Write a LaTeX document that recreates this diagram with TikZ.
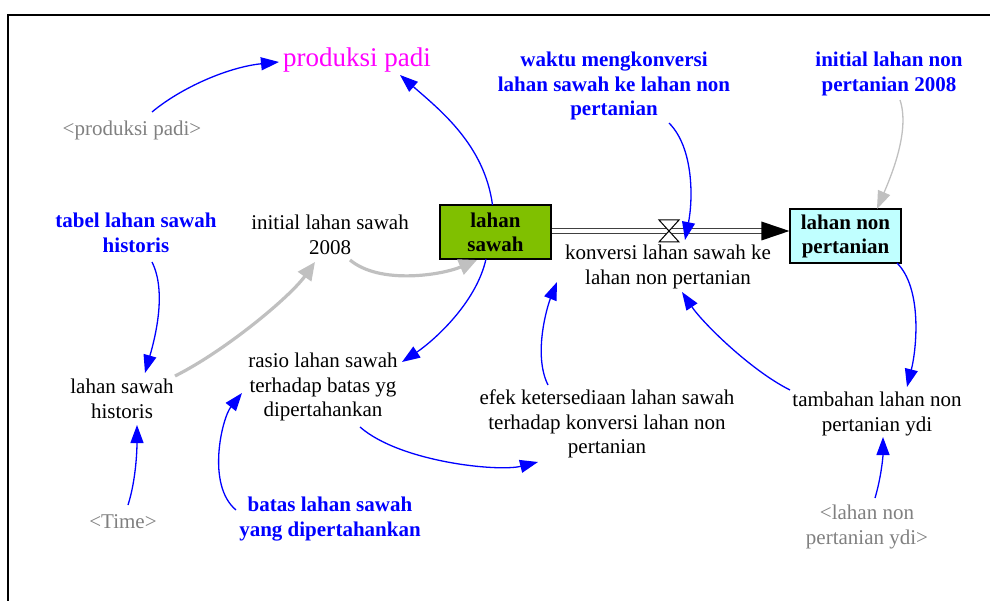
\documentclass[tikz,border=0pt]{standalone}
\usepackage{fontspec}
\setmainfont{Liberation Serif}
\usetikzlibrary{arrows.meta}
\definecolor{lsgreen}{HTML}{80C000}
\definecolor{lnpcyan}{HTML}{C0FFFF}
\definecolor{shadowgray}{HTML}{808080}
\definecolor{linkgray}{HTML}{C0C0C0}
\definecolor{pipegray}{HTML}{404040}
\definecolor{magentatext}{HTML}{FF00FF}
\begin{document}
\begin{tikzpicture}[x=1pt,y=-1pt,
  every node/.style={font=\fontsize{21}{24.5}\selectfont, align=center, inner sep=1pt},
  var/.style={text=black},
  auxin/.style={text=magentatext, font=\fontsize{27}{30}\selectfont},
  const/.style={text=blue, font=\fontsize{21}{24.5}\selectfont\bfseries},
  shadowvar/.style={text=shadowgray},
  stock/.style={draw=black, line width=1.2pt, minimum width=111pt, minimum height=54pt, inner sep=0pt,
    font=\fontsize{21}{24}\selectfont\bfseries},
  link/.style={blue, line width=1.3pt, -{Triangle[length=18pt,width=13pt]}},
  glink/.style={linkgray, line width=1.3pt, -{Triangle[length=18pt,width=13pt]}},
  tlink/.style={linkgray, line width=3.2pt, -{Triangle[length=18pt,width=16pt]}},
  pipe/.style={draw=pipegray, line width=1.3pt, double=white, double distance=3.2pt}
]
\useasboundingbox (0,0) rectangle (990,601);
\draw[line width=1.5pt] (8,601) -- (8,15) -- (990,15);

% nodes
\node[auxin] (pp) at (357,60) {produksi padi};
\node[shadowvar] (psg) at (132,130) {<produksi padi>};
\node[const] (wk) at (614,86) {waktu mengkonversi\\lahan sawah ke lahan non\\pertanian};
\node[const] (ilnp) at (889,74) {initial lahan non\\pertanian 2008};
\node[const] (tls) at (136,233) {tabel lahan sawah\\historis};
\node[var] (ils) at (330,235) {initial lahan sawah\\2008};
\node[stock, fill=lsgreen] (ls) at (495.5,232) {lahan\\sawah};
\node[stock, fill=lnpcyan] (lnp) at (845.5,236) {lahan non\\pertanian};
\node[var] (kv) at (668,267) {konversi lahan sawah ke\\lahan non pertanian};
\node[var] (rs) at (323,387) {rasio lahan sawah\\terhadap batas yg\\dipertahankan};
\node[var] (lsh) at (122,399) {lahan sawah\\historis};
\node[var] (ef) at (607,424) {efek ketersediaan lahan sawah\\terhadap konversi lahan non\\pertanian};
\node[var] (tb) at (877,414) {tambahan lahan non\\pertanian ydi};
\node[shadowvar] (time) at (123,522) {<Time>};
\node[const] (bt) at (330,519) {batas lahan sawah\\yang dipertahankan};
\node[shadowvar] (lnpg) at (867,527) {<lahan non\\pertanian ydi>};

% flow
\coordinate (valve) at (669,231);
\coordinate (pipeEnd) at (lnp.west |- valve);
\draw[pipe] (ls.east |- valve) -- ([xshift=-27pt]pipeEnd);
\fill[black] (pipeEnd) -- ++(-28,-9.5) -- ++(0,19) -- cycle;
\draw[fill=white, line width=1pt] ([shift={(-10,-11)}]valve) -- ([shift={(10,-11)}]valve)
  -- ([shift={(-10,11)}]valve) -- ([shift={(10,11)}]valve) -- cycle;

% links
\draw[link] ([shift={(20,-18)}]psg.center) .. controls +(30,-25) and +(-50,5) .. ([shift={(-78,2)}]pp.center);
\draw[link] ([shift={(-3,-27)}]ls.center) .. controls +(-8,-60) and +(40,35) .. ([shift={(43,15)}]pp.center);
\draw[link] ([shift={(55,37)}]wk.center) .. controls +(25,25) and +(8,-40) .. ([shift={(17,-27)}]kv.center);
\draw[glink] ([shift={(11,26)}]ilnp.center) .. controls +(10,30) and +(15,-35) .. ([shift={(31.5,-27)}]lnp.center);
\draw[link] ([shift={(16,29)}]tls.center) .. controls +(15,30) and +(10,-35) .. ([shift={(23,-26)}]lsh.center);
\draw[tlink] ([shift={(53,-23)}]lsh.center) .. controls +(50,-25) and +(-25,35) .. ([shift={(-15,27)}]ils.center);
\draw[tlink] ([shift={(20,25)}]ils.center) .. controls +(30,25) and +(-35,15) .. ([shift={(-18.5,28)}]ls.center);
\draw[link] ([shift={(-9.5,27)}]ls.center) .. controls +(-10,45) and +(30,-20) .. ([shift={(79,-25)}]rs.center);
\draw[link] ([shift={(-59,-39)}]ef.center) .. controls +(-15,-30) and +(-10,25) .. ([shift={(-111,15)}]kv.center);
\draw[link] ([shift={(-87,-24)}]tb.center) .. controls +(-40,-20) and +(20,30) .. ([shift={(14,25)}]kv.center);
\draw[link] ([shift={(51.5,27)}]lnp.center) .. controls +(25,25) and +(10,-40) .. ([shift={(30,-27)}]tb.center);
\draw[link] ([shift={(37,40)}]rs.center) .. controls +(40,35) and +(-40,10) .. ([shift={(-69,38)}]ef.center);
\draw[link] ([shift={(-94,-9)}]bt.center) .. controls +(-30,-25) and +(-20,25) .. ([shift={(-81,6)}]rs.center);
\draw[link] ([shift={(5,-17)}]time.center) .. controls +(8,-25) and +(0,25) .. ([shift={(15,26)}]lsh.center);
\draw[link] ([shift={(8,-29)}]lnpg.center) .. controls +(6,-20) and +(0,20) .. ([shift={(6,23)}]tb.center);
\end{tikzpicture}
\end{document}
